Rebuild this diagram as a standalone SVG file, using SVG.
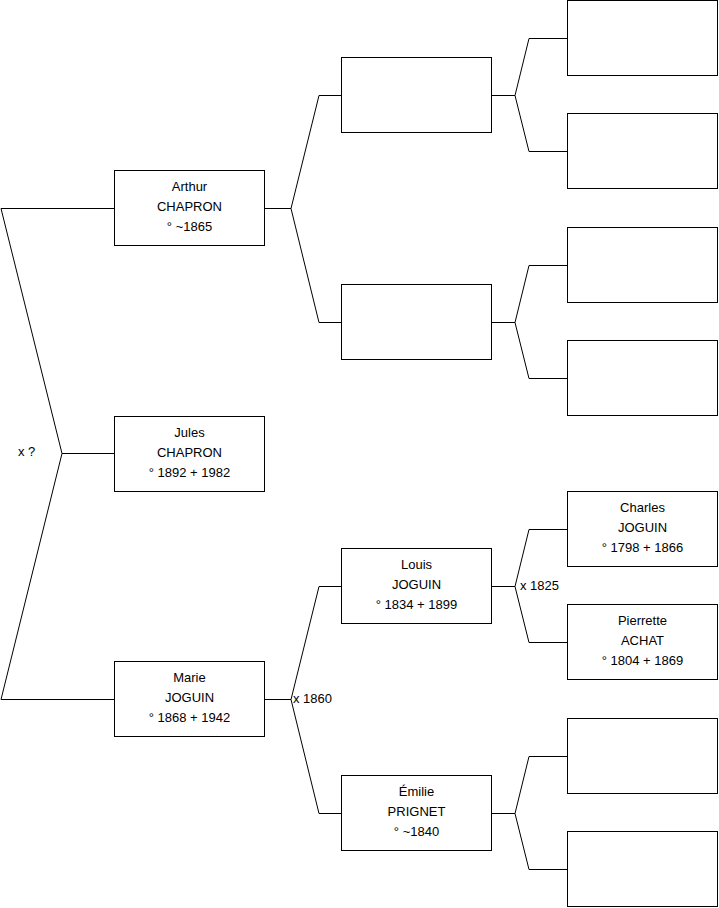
<svg xmlns="http://www.w3.org/2000/svg" width="719" height="908" viewBox="0 0 719 908">
<style>
.box{fill:#fff;stroke:#000;stroke-width:1}
.ln{fill:none;stroke:#000;stroke-width:1}
text{font-family:"Liberation Sans",Arial,sans-serif;font-size:13px;fill:#000}
.c{text-anchor:middle}
</style>
<rect width="719" height="908" fill="#fff"/>
<g id="connectors">
<polyline class="ln" points="114,208.5 1,208.5 62,453.5 1,699.5 114,699.5"/>
<line class="ln" x1="62" y1="453.5" x2="114" y2="453.5"/>
<polyline class="ln" points="341,95.5 319,95.5 291,208.5 319,322.5 341,322.5"/>
<line class="ln" x1="265" y1="208.5" x2="291" y2="208.5"/>
<polyline class="ln" points="341,586.5 319,586.5 291,699.5 319,813.5 341,813.5"/>
<line class="ln" x1="265" y1="699.5" x2="291" y2="699.5"/>
<polyline class="ln" points="567,38.5 529,38.5 515,95.5 529,151.5 567,151.5"/>
<line class="ln" x1="492" y1="95.5" x2="515" y2="95.5"/>
<polyline class="ln" points="567,265.5 529,265.5 515,322.5 529,378.5 567,378.5"/>
<line class="ln" x1="492" y1="322.5" x2="515" y2="322.5"/>
<polyline class="ln" points="567,529.5 529,529.5 515,586.5 529,642.5 567,642.5"/>
<line class="ln" x1="492" y1="586.5" x2="515" y2="586.5"/>
<polyline class="ln" points="567,756.5 529,756.5 515,813.5 529,869.5 567,869.5"/>
<line class="ln" x1="492" y1="813.5" x2="515" y2="813.5"/>
<text x="18" y="456">x ?</text>
<text x="293" y="703">x 1860</text>
<text x="520" y="590">x 1825</text>
</g>
<g id="jules"><rect class="box" x="114.5" y="416.5" width="150" height="75"/>
<text class="c" x="189.5" y="437">Jules</text><text class="c" x="189.5" y="457">CHAPRON</text><text class="c" x="189.5" y="477">° 1892 + 1982</text></g>
<g id="arthur"><rect class="box" x="114.5" y="170.5" width="150" height="75"/>
<text class="c" x="189.5" y="191">Arthur</text><text class="c" x="189.5" y="211">CHAPRON</text><text class="c" x="189.5" y="231">° ~1865</text></g>
<g id="marie"><rect class="box" x="114.5" y="661.5" width="150" height="75"/>
<text class="c" x="189.5" y="682">Marie</text><text class="c" x="189.5" y="702">JOGUIN</text><text class="c" x="189.5" y="722">° 1868 + 1942</text></g>
<g id="g1a"><rect class="box" x="341.5" y="57.5" width="150" height="75"/></g>
<g id="g1b"><rect class="box" x="341.5" y="284.5" width="150" height="75"/></g>
<g id="louis"><rect class="box" x="341.5" y="548.5" width="150" height="75"/>
<text class="c" x="416.5" y="569">Louis</text><text class="c" x="416.5" y="589">JOGUIN</text><text class="c" x="416.5" y="609">° 1834 + 1899</text></g>
<g id="emilie"><rect class="box" x="341.5" y="775.5" width="150" height="75"/>
<text class="c" x="416.5" y="796">Émilie</text><text class="c" x="416.5" y="816">PRIGNET</text><text class="c" x="416.5" y="836">° ~1840</text></g>
<g id="g2a"><rect class="box" x="567.5" y="0.5" width="150" height="75"/></g>
<g id="g2b"><rect class="box" x="567.5" y="113.5" width="150" height="75"/></g>
<g id="g2c"><rect class="box" x="567.5" y="227.5" width="150" height="75"/></g>
<g id="g2d"><rect class="box" x="567.5" y="340.5" width="150" height="75"/></g>
<g id="charles"><rect class="box" x="567.5" y="491.5" width="150" height="75"/>
<text class="c" x="642.5" y="512">Charles</text><text class="c" x="642.5" y="532">JOGUIN</text><text class="c" x="642.5" y="552">° 1798 + 1866</text></g>
<g id="pierrette"><rect class="box" x="567.5" y="604.5" width="150" height="75"/>
<text class="c" x="642.5" y="625">Pierrette</text><text class="c" x="642.5" y="645">ACHAT</text><text class="c" x="642.5" y="665">° 1804 + 1869</text></g>
<g id="g2g"><rect class="box" x="567.5" y="718.5" width="150" height="75"/></g>
<g id="g2h"><rect class="box" x="567.5" y="831.5" width="150" height="75"/></g>
</svg>
